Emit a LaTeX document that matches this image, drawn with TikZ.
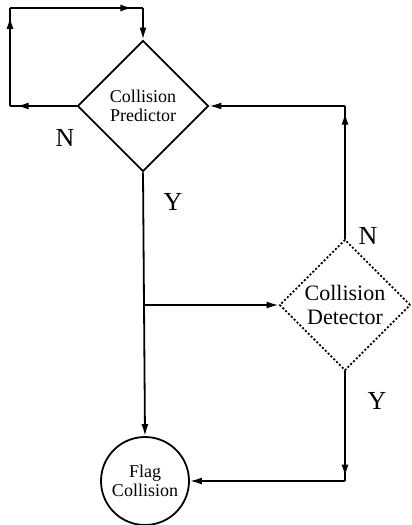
\documentclass[tikz,border=0pt]{standalone}
\usepackage{fontspec}
\setmainfont{Liberation Serif}
\usetikzlibrary{shapes.geometric,arrows.meta,decorations.markings}
\begin{document}
\begin{tikzpicture}[x=1pt,y=-1pt,
  line width=1.8pt,
  tip/.tip={Latex[length=12pt,width=7pt]},
  marrow/.style={postaction={decorate},decoration={markings,mark=at position #1 with {\arrow{tip}}}},
  decision/.style={diamond,draw,aspect=1,inner sep=0pt,minimum width=131pt,minimum height=131pt,align=center},
  lbl/.style={font=\fontsize{26}{26}\selectfont,inner sep=0pt}
]
\useasboundingbox (0,0) rectangle (412,525);
\node[decision,font=\fontsize{18}{19.5}\selectfont] (pred) at (143,106) {Collision\\Predictor};
\node[decision,dash pattern=on 2pt off 2pt,font=\fontsize{22}{23.5}\selectfont] (det) at (345,305) {Collision\\Detector};
\node[circle,draw,minimum size=88pt,inner sep=0pt,align=center,font=\fontsize{18}{19.5}\selectfont] (flag) at (145,481) {Flag\\Collision};
\coordinate (c1) at (10,106);
\coordinate (c2) at (10,8);
\coordinate (c3) at (143,8);
\coordinate (b) at (143,305);
\coordinate (c4) at (345,106);
\coordinate (c5) at (345,481);
% loop
\draw[marrow=0.9] (pred.west) -- (c1);
\draw[marrow=0.91] (c1) -- (c2);
\draw[marrow=0.92] (c2) -- (c3);
\draw[-tip] (c3) -- (pred.north);
% Y branch
\draw[-tip] (pred.south) -- (flag.north);
\draw[-tip] (b) -- (det.west);
% detector N
\draw[marrow=0.95] (det.north) -- (c4);
\draw[-tip] (c4) -- (pred.east);
% detector Y
\draw[marrow=0.96] (det.south) -- (c5);
\draw[-tip] (c5) -- (flag.east);
% labels
\node[lbl] (ln1) at (65,138) {N};
\node[lbl] (ly1) at (173,202) {Y};
\node[lbl] (ln2) at (368,236) {N};
\node[lbl] (ly2) at (377,401) {Y};
\end{tikzpicture}
\end{document}
